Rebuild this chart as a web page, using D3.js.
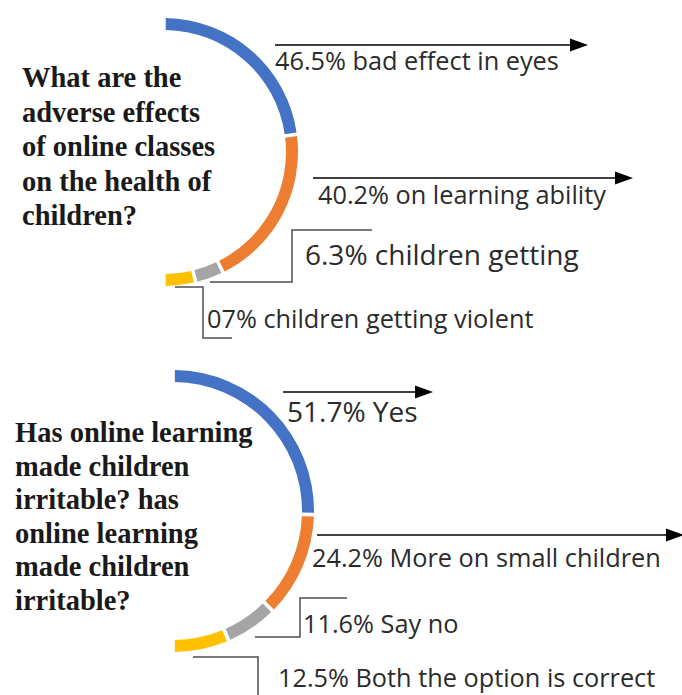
<!DOCTYPE html>
<html>
<head>
<meta charset="utf-8">
<script src="https://cdn.jsdelivr.net/npm/d3@7"></script>
<style>
  html, body { margin: 0; padding: 0; background: #fff; }
  svg { display: block; }
</style>
</head>
<body>
<svg id="chart" width="682" height="695"></svg>
<script>
// Survey 1: adverse effects of online classes on children's health
const effectCategories = ["bad effect in eyes", "on learning ability", "children getting", "children getting violent"];
const effectValues = [46.5, 40.2, 6.3, 7];
const effectValueText = ["46.5%", "40.2%", "6.3%", "07%"];
const effectQuestion = ["What are the", "adverse effects", "of online classes", "on the health of", "children?"];

// Survey 2: has online learning made children irritable
const irritableCategories = ["Yes", "More on small children", "Say no", "Both the option is correct"];
const irritableValues = [51.7, 24.2, 11.6, 12.5];
const irritableValueText = ["51.7%", "24.2%", "11.6%", "12.5%"];
const irritableQuestion = ["Has online learning", "made children", "irritable? has", "online learning", "made children", "irritable?"];

const sliceColors = ["#4472C4", "#ED7D31", "#A5A5A5", "#FFC000"];

// Panel layout: half-ring placement, question block and callout geometry
const panels = [
  {
    categories: effectCategories, values: effectValues, valueText: effectValueText, question: effectQuestion,
    cx: 164, cy: 152, rOuter: 134, rInner: 122,
    qx: 22, qy: 87, qStep: 34.5,
    callouts: [
      { kind: "arrow", pts: [[275, 45], [588, 45]], label: [275, 70], size: 25.3 },
      { kind: "arrow", pts: [[313, 178], [633, 178]], label: [318, 204], size: 25.3 },
      { kind: "elbow", pts: [[210, 282], [292, 282], [292, 230], [372, 230]], label: [305, 265], size: 28 },
      { kind: "elbow", pts: [[175, 287], [203, 287], [203, 338], [232, 338]], label: [207, 328], size: 25.3 }
    ]
  },
  {
    categories: irritableCategories, values: irritableValues, valueText: irritableValueText, question: irritableQuestion,
    cx: 173, cy: 511, rOuter: 141, rInner: 129,
    qx: 15, qy: 442, qStep: 33.5,
    callouts: [
      { kind: "arrow", pts: [[283, 392], [433, 392]], label: [287, 422], size: 28 },
      { kind: "arrow", pts: [[317, 535], [684, 535]], label: [312, 567], size: 25.3 },
      { kind: "elbow", pts: [[255, 637], [300, 637], [300, 598], [347, 598]], label: [303, 633], size: 25.3 },
      { kind: "elbow", pts: [[193, 657], [258, 657], [258, 700]], label: [278, 687], size: 25.3 }
    ]
  }
];

const svg = d3.select("#chart");
svg.append("rect").attr("width", 682).attr("height", 695).attr("fill", "#fff");

const pie = d3.pie().sort(null).startAngle(0).endAngle(Math.PI).padAngle(0.026);
const line = d3.line();

panels.forEach(p => {
  const g = svg.append("g");

  // half-ring slices, running clockwise from 12 o'clock to 6 o'clock
  const arc = d3.arc().innerRadius(p.rInner).outerRadius(p.rOuter).padRadius(p.rOuter);
  g.append("g")
    .attr("transform", `translate(${p.cx},${p.cy})`)
    .selectAll("path")
    .data(pie(p.values))
    .join("path")
    .attr("d", arc)
    .attr("fill", (d, i) => sliceColors[i]);

  // question text
  g.append("text")
    .attr("font-family", "'Liberation Serif', 'Times New Roman', serif")
    .attr("font-weight", "bold")
    .attr("font-size", 28.5)
    .attr("fill", "#1a1a1a")
    .selectAll("tspan")
    .data(p.question)
    .join("tspan")
    .attr("x", p.qx)
    .attr("y", (d, i) => p.qy + i * p.qStep)
    .text(d => d);

  // callouts
  p.callouts.forEach((c, i) => {
    if (c.kind === "arrow") {
      const [a, b] = c.pts;
      const headLen = 18, headHalf = 6.5;
      g.append("path")
        .attr("d", line([a, [b[0] - headLen + 2, b[1]]]))
        .attr("stroke", "#000").attr("stroke-width", 1.4).attr("fill", "none");
      g.append("path")
        .attr("d", `M${b[0]},${b[1]} L${b[0] - headLen},${b[1] - headHalf} L${b[0] - headLen},${b[1] + headHalf} Z`)
        .attr("fill", "#000");
    } else {
      g.append("path")
        .attr("d", line(c.pts))
        .attr("stroke", "#4d4d4d").attr("stroke-width", 1.5).attr("fill", "none");
    }
    g.append("text")
      .attr("x", c.label[0]).attr("y", c.label[1])
      .attr("font-family", "'Open Sans', Lato, sans-serif")
      .attr("font-size", c.size)
      .attr("fill", "#2b2b2b")
      .text(`${p.valueText[i]} ${p.categories[i]}`);
  });
});
</script>
</body>
</html>
